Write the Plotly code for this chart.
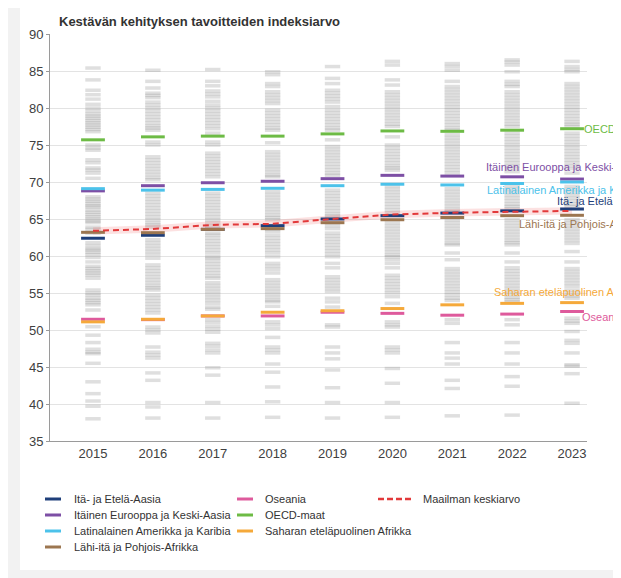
import plotly.graph_objects as go

years = [2015, 2016, 2017, 2018, 2019, 2020, 2021, 2022, 2023]

title_text = "Kestävän kehityksen tavoitteiden indeksiarvo"

# Regional averages
ita_etela_aasia = [62.4, 62.8, 63.6, 64.1, 65.0, 65.45, 65.8, 66.1, 66.35]
itainen_eurooppa = [68.8, 69.5, 69.9, 70.1, 70.45, 70.9, 70.8, 70.7, 70.4]
latinalainen_amerikka = [69.1, 68.9, 69.0, 69.15, 69.5, 69.7, 69.6, 69.8, 70.0]
lahi_ita = [63.2, 63.15, 63.6, 63.7, 64.5, 64.9, 65.2, 65.45, 65.5]
oseania = [51.45, 51.4, 51.9, 51.9, 52.4, 52.25, 52.0, 52.15, 52.5]
oecd = [75.7, 76.1, 76.2, 76.2, 76.5, 76.9, 76.85, 77.0, 77.2]
saharan = [51.1, 51.45, 51.9, 52.4, 52.6, 52.9, 53.4, 53.6, 53.7]
maailma = [63.4, 63.65, 64.2, 64.35, 65.0, 65.6, 65.85, 66.0, 66.1]
maailma_low = [62.9, 63.15, 63.7, 63.85, 64.5, 65.1, 65.35, 65.5, 65.6]
maailma_high = [63.9, 64.15, 64.7, 64.85, 65.5, 66.1, 66.35, 66.5, 66.6]

# Individual countries (grey dashes), per year
maat_2015 = [85.4, 83.8, 82.4, 81.8, 81.2, 80.5, 80.0, 79.6, 79.2, 78.9, 78.6, 78.3, 78.0, 77.7, 77.4, 77.1, 76.8,
             75.0, 74.6, 74.3, 73.0, 72.6, 71.9, 71.6, 71.2, 70.5, 68.0, 67.7, 67.4, 67.1, 66.8, 66.6, 66.2, 65.9,
             65.6, 65.3, 65.0, 64.7, 64.5, 63.9, 63.6, 63.1, 61.8, 61.4, 61.0, 60.8, 60.5, 60.2, 59.8, 59.2, 58.6,
             58.3, 58.0, 57.7, 57.4, 57.0, 55.4, 55.0, 54.7, 54.3, 54.0, 53.7, 53.4, 52.7, 50.45, 49.3, 48.3, 47.4,
             47.0, 46.8, 45.5, 43.0, 41.4, 40.4, 39.7, 38.0]
maat_2016 = [85.1, 83.6, 82.7, 82.0, 81.7, 81.4, 80.8, 80.4, 80.0, 79.6, 79.2, 78.8, 78.4, 78.0, 77.6, 77.3, 77.0,
             75.4, 75.0, 73.4, 73.0, 72.6, 72.2, 71.8, 71.4, 71.0, 70.6, 70.3, 68.5, 68.1, 67.7, 67.3, 66.9, 66.5,
             66.1, 65.7, 65.3, 64.9, 64.5, 64.2, 63.9, 62.2, 61.8, 61.4, 61.0, 60.6, 60.2, 59.7, 58.8, 58.4, 58.0,
             57.6, 57.2, 56.8, 56.4, 56.0, 55.7, 55.4, 54.7, 54.3, 53.9, 53.5, 53.1, 52.7, 52.3, 50.4, 50.0, 49.6,
             47.7, 47.0, 46.6, 46.2, 44.2, 43.2, 40.2, 39.6, 38.1]
maat_2017 = [85.2, 83.6, 83.0, 82.3, 81.9, 81.5, 80.9, 80.4, 80.0, 79.6, 79.2, 78.8, 78.4, 78.0, 77.6, 77.2, 76.6,
             75.4, 75.0, 73.9, 73.5, 73.1, 72.7, 72.3, 71.9, 71.5, 71.1, 70.7, 68.5, 68.1, 67.7, 67.3, 66.9, 66.5,
             66.1, 65.7, 65.3, 64.9, 64.5, 64.1, 63.7, 63.1, 62.8, 62.4, 62.0, 61.6, 61.2, 60.8, 60.4, 59.9, 59.7,
             59.3, 58.9, 58.5, 58.1, 57.7, 57.3, 57.0, 56.4, 56.0, 55.6, 55.2, 54.8, 54.4, 54.0, 53.6, 53.1, 52.8,
             51.4, 51.0, 50.5, 50.1, 49.7, 48.2, 47.8, 47.3, 46.9, 44.9, 43.9, 40.2, 38.1]
maat_2018 = [84.9, 84.5, 83.3, 82.9, 82.2, 81.8, 81.4, 81.0, 80.6, 79.7, 79.3, 78.9, 78.5, 78.1, 77.7, 77.3, 77.0,
             75.3, 74.1, 73.7, 73.3, 72.9, 72.5, 72.1, 71.7, 71.3, 70.9, 70.7, 68.7, 68.3, 67.9, 67.5, 67.1, 66.7,
             66.3, 65.9, 65.5, 65.2, 64.9, 64.0, 63.6, 63.3, 62.8, 62.4, 62.0, 61.6, 61.2, 60.8, 60.4, 59.9, 59.0,
             58.6, 58.2, 57.7, 56.8, 56.4, 56.0, 55.6, 55.2, 54.8, 54.4, 54.0, 53.8, 53.2, 51.1, 50.7, 50.2, 49.0,
             47.7, 47.3, 46.9, 45.4, 44.3, 42.3, 40.3, 38.2]
maat_2019 = [85.6, 84.0, 83.3, 82.4, 82.0, 81.6, 81.2, 80.8, 80.2, 79.7, 79.3, 78.9, 78.5, 78.1, 77.7, 77.3, 77.0,
             75.7, 74.8, 74.4, 74.0, 73.6, 73.2, 72.8, 72.4, 72.0, 71.6, 71.2, 70.9, 68.9, 68.5, 68.1, 67.7, 67.3,
             66.9, 66.5, 66.1, 65.7, 65.4, 65.1, 64.5, 64.1, 63.7, 63.1, 62.7, 62.3, 61.9, 61.5, 61.1, 60.7, 60.3,
             59.9, 59.0, 58.4, 57.2, 56.8, 56.4, 56.0, 55.6, 55.2, 54.3, 53.8, 53.1, 50.7, 50.4, 47.7, 46.9, 46.1,
             44.6, 42.2, 40.2, 38.1]
maat_2020 = [86.3, 85.8, 83.8, 83.1, 82.2, 81.8, 81.4, 81.0, 80.6, 80.2, 79.8, 79.4, 79.0, 78.6, 78.2, 77.8, 77.5,
             76.1, 75.0, 74.6, 74.2, 73.8, 73.4, 73.0, 72.6, 72.2, 71.9, 71.6, 69.4, 69.0, 68.6, 68.2, 67.8, 67.4,
             67.0, 66.6, 66.2, 65.8, 64.5, 64.1, 63.7, 63.3, 62.9, 62.5, 62.1, 61.7, 61.3, 60.9, 60.5, 60.1, 59.9,
             59.5, 59.0, 58.4, 57.4, 57.0, 56.6, 56.2, 55.8, 55.4, 55.0, 54.5, 53.6, 51.1, 50.7, 50.4, 47.7, 47.3,
             46.9, 44.8, 42.8, 40.2, 38.2]
maat_2021 = [86.0, 85.6, 85.1, 83.6, 82.9, 82.5, 82.1, 81.7, 81.3, 80.9, 80.5, 80.1, 79.7, 79.3, 78.9, 78.5, 78.1,
             77.7, 77.3, 77.0, 76.4, 76.0, 75.6, 75.2, 74.8, 74.4, 74.0, 73.6, 73.2, 72.8, 72.4, 72.0, 71.6, 71.2,
             69.1, 68.7, 68.3, 67.9, 67.5, 67.1, 66.7, 66.3, 66.0, 64.9, 64.5, 64.1, 63.7, 63.3, 62.9, 62.5, 62.1,
             61.7, 61.5, 60.4, 59.5, 58.3, 57.9, 57.5, 57.1, 56.7, 56.3, 55.9, 55.5, 55.1, 54.7, 54.3, 54.0, 51.4,
             50.9, 48.3, 46.9, 46.2, 45.4, 43.2, 42.1, 38.4]
maat_2022 = [86.5, 86.2, 85.8, 84.9, 83.6, 83.2, 82.9, 82.2, 81.8, 81.4, 81.0, 80.6, 80.2, 79.8, 79.4, 79.0, 78.6,
             78.2, 77.8, 77.5, 76.6, 76.2, 75.8, 75.4, 75.0, 74.6, 74.2, 73.8, 73.4, 73.0, 72.6, 72.2, 71.8, 71.4,
             69.4, 69.0, 68.6, 68.2, 67.8, 67.4, 67.0, 66.7, 66.4, 64.9, 64.5, 64.1, 63.7, 63.3, 62.9, 62.5, 62.1,
             61.8, 61.5, 60.4, 59.2, 58.4, 58.0, 57.6, 57.2, 56.8, 56.4, 56.0, 55.6, 55.2, 54.8, 54.4, 54.1, 53.8,
             51.4, 50.7, 48.3, 46.9, 45.4, 43.7, 42.4, 38.5]
maat_2023 = [86.3, 85.6, 85.2, 84.9, 83.3, 82.9, 82.5, 82.1, 81.7, 81.3, 80.9, 80.5, 80.1, 79.7, 79.3, 78.9, 78.5,
             78.1, 77.8, 77.5, 76.6, 76.2, 75.8, 75.4, 75.0, 74.6, 74.2, 73.8, 73.4, 73.0, 72.6, 72.2, 71.8, 71.2,
             69.4, 69.0, 68.6, 68.2, 67.8, 67.4, 67.0, 66.7, 64.9, 64.5, 64.1, 63.7, 63.3, 62.9, 62.5, 62.1, 61.7,
             60.6, 59.2, 58.3, 57.9, 57.5, 57.1, 56.7, 56.3, 55.9, 55.4, 55.0, 54.6, 54.3, 51.6, 51.2, 50.9, 49.8,
             48.6, 48.2, 46.9, 45.3, 45.1, 44.1, 40.1]
maat = [maat_2015, maat_2016, maat_2017, maat_2018, maat_2019, maat_2020, maat_2021, maat_2022, maat_2023]

regions = [
    ("Itä- ja Etelä-Aasia", ita_etela_aasia, "#1f3f7a"),
    ("Itäinen Eurooppa ja Keski-Aasia", itainen_eurooppa, "#7d4fa5"),
    ("Latinalainen Amerikka ja Karibia", latinalainen_amerikka, "#4cc2ea"),
    ("Lähi-itä ja Pohjois-Afrikka", lahi_ita, "#9c7650"),
    ("Oseania", oseania, "#de5a9c"),
    ("OECD-maat", oecd, "#6dbb45"),
    ("Saharan eteläpuolinen Afrikka", saharan, "#f5a93a"),
]
world_name = "Maailman keskiarvo"
world_color = "#e2393a"

FONT = "Liberation Sans, Arial, sans-serif"
OFF = 8  # page margin of the html body
W, H = 621 - OFF, 578 - OFF
# plot area in page pixels: x 50..587, y 34..441
L = 50 - OFF
T = 34 - OFF
R = W - (587 - OFF)
B = H - (441 - OFF)
PW = W - L - R
PH = H - T - B
XR = [2014.282, 2023.25]
YR = [35, 90]


def px_x(px):
    return (px - OFF - L) / PW


def px_y(py):
    return (H - B - (py - OFF)) / PH


def val_at(py):
    return YR[1] - (py - 34) / PH * (YR[1] - YR[0])


fig = go.Figure()

# grey country dashes
gx, gy = [], []
for yr, vals in zip(years, maat):
    gx += [yr] * len(vals)
    gy += vals
fig.add_trace(go.Scatter(
    x=gx, y=gy, mode="markers", showlegend=False, hoverinfo="skip",
    marker=dict(symbol="line-ew", size=11, line=dict(width=3.5, color="rgba(150,150,150,0.3)")),
))

# world average band + line
fig.add_trace(go.Scatter(x=years, y=maailma_high, mode="lines", line=dict(width=0), showlegend=False,
                         hoverinfo="skip"))
fig.add_trace(go.Scatter(x=years, y=maailma_low, mode="lines", line=dict(width=0), fill="tonexty",
                         fillcolor="rgba(240,120,120,0.22)", showlegend=False, hoverinfo="skip"))

# regional dashes
for name, vals, col in regions:
    fig.add_trace(go.Scatter(
        x=years, y=vals, mode="markers", name=name, showlegend=False,
        marker=dict(symbol="line-ew", size=17, line=dict(width=3, color=col)),
    ))

fig.add_trace(go.Scatter(x=years, y=maailma, mode="lines", name=world_name, showlegend=False,
                         line=dict(color=world_color, width=2, dash="6px,4px")))

shapes = [
    dict(type="rect", xref="paper", yref="paper", x0=px_x(20), x1=px_x(650), y0=px_y(570), y1=px_y(7),
         fillcolor="white", line=dict(width=0), layer="below"),
]
annotations = [
    dict(text="<b>" + title_text + "</b>", xref="paper", yref="paper", x=px_x(57), y=px_y(22),
         xanchor="left", yanchor="middle", showarrow=False, font=dict(family=FONT, size=13, color="#333333")),
]

# right-side labels (page pixel positions of their left edge / centre)
label_pos = {
    "OECD-maat": (582, 129),
    "Itäinen Eurooppa ja Keski-Aasia": (484, 166.5),
    "Latinalainen Amerikka ja Karibia": (485, 190),
    "Itä- ja Etelä-Aasia": (555, 201),
    "Lähi-itä ja Pohjois-Afrikka": (517, 224),
    "Saharan eteläpuolinen Afrikka": (492, 292),
    "Oseania": (580, 317),
}
for name, vals, col in regions:
    lx, ly = label_pos[name]
    annotations.append(dict(text=name, xref="paper", yref="y", x=px_x(lx), y=val_at(ly),
                            xanchor="left", yanchor="middle", showarrow=False,
                            font=dict(family=FONT, size=11, color=col)))

# legend (manual, three columns)
leg_rows = [499, 515, 531, 547]
cols = [(45, 61, 72), (237, 253, 263)]
items = [(regions[0], 0, 0), (regions[1], 0, 1), (regions[2], 0, 2), (regions[3], 0, 3),
         (regions[4], 1, 0), (regions[5], 1, 1), (regions[6], 1, 2)]
for (name, vals, col), c, r in items:
    x0, x1, tx = cols[c]
    yy = px_y(leg_rows[r])
    shapes.append(dict(type="line", xref="paper", yref="paper", x0=px_x(x0), x1=px_x(x1), y0=yy, y1=yy,
                       line=dict(color=col, width=3)))
    annotations.append(dict(text=name, xref="paper", yref="paper", x=px_x(tx), y=yy, xanchor="left",
                            yanchor="middle", showarrow=False, font=dict(family=FONT, size=11, color="#333333")))
yy = px_y(leg_rows[0])
shapes.append(dict(type="line", xref="paper", yref="paper", x0=px_x(378), x1=px_x(412), y0=yy, y1=yy,
                   line=dict(color=world_color, width=2.5, dash="6px,3px")))
annotations.append(dict(text=world_name, xref="paper", yref="paper", x=px_x(421), y=yy, xanchor="left",
                        yanchor="middle", showarrow=False, font=dict(family=FONT, size=11, color="#333333")))

fig.update_layout(
    width=W, height=H,
    margin=dict(l=L, r=R, t=T, b=B, pad=0),
    paper_bgcolor="#f2f2f2",
    plot_bgcolor="rgba(0,0,0,0)",
    shapes=shapes,
    annotations=annotations,
    showlegend=False,
    font=dict(family=FONT, size=13, color="#404040"),
    xaxis=dict(range=XR, tickvals=years, ticktext=[str(y) for y in years], showgrid=False, zeroline=False,
               showline=True, linecolor="#9a9a9a", linewidth=1, ticks="", tickfont=dict(size=13, color="#404040")),
    yaxis=dict(range=YR, dtick=5, tick0=35, showgrid=True, gridcolor="#e3e3e3", gridwidth=1, zeroline=False,
               showline=True, linecolor="#9a9a9a", linewidth=1, ticks="outside", ticklen=3, tickcolor="#9a9a9a",
               tickfont=dict(size=13, color="#404040")),
)

fig.write_html("out.html")
